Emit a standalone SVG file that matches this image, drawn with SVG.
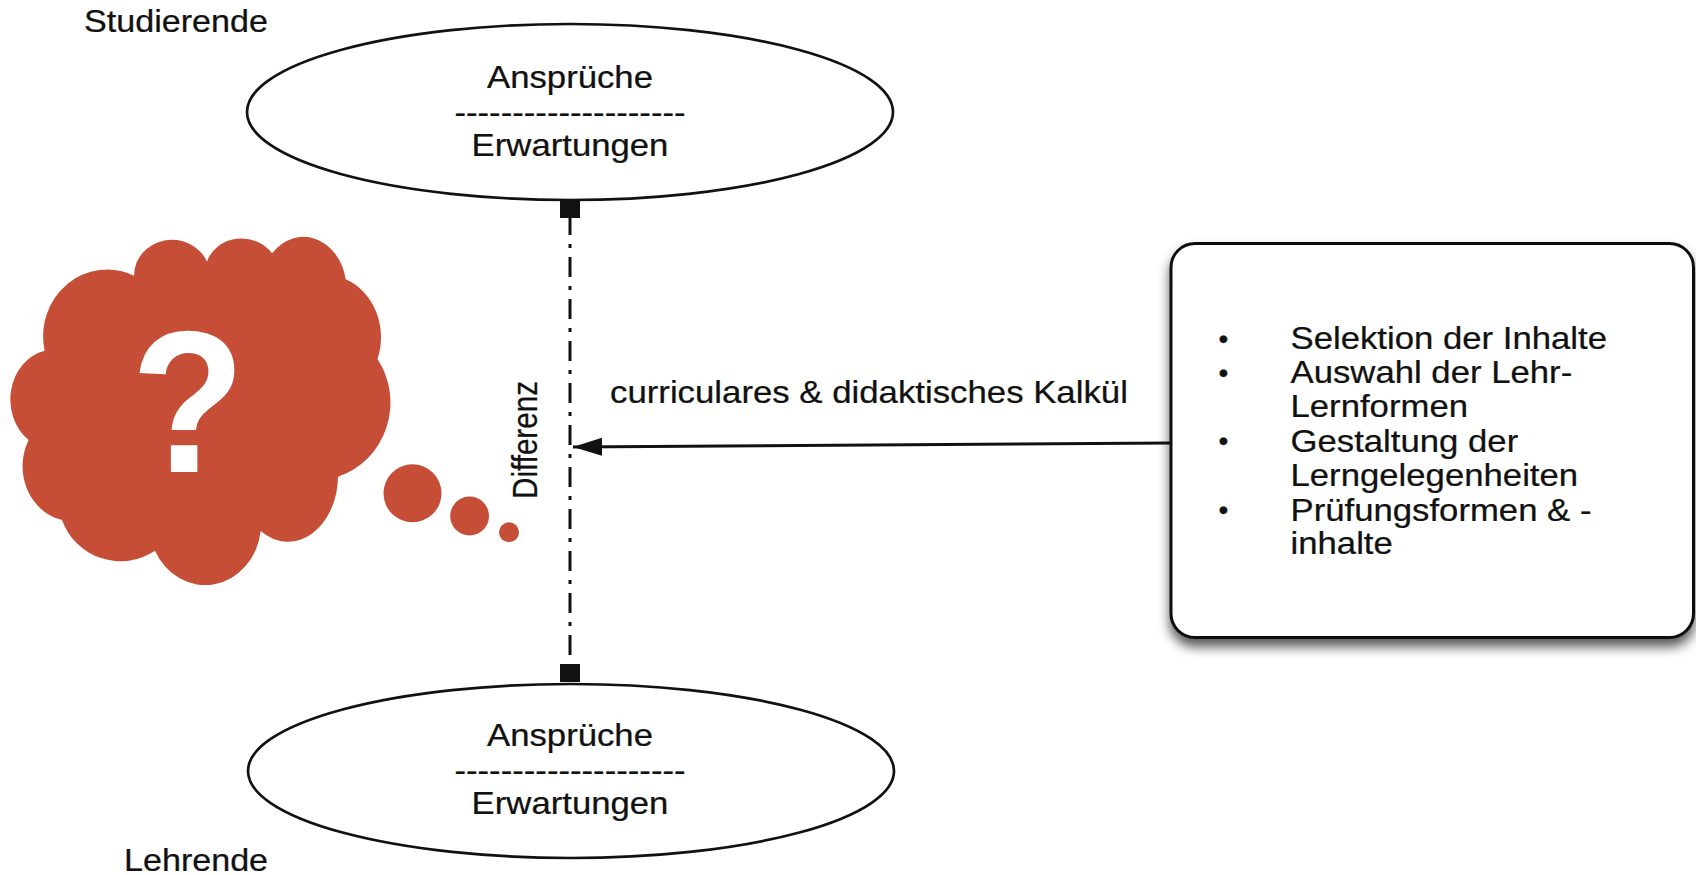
<svg xmlns="http://www.w3.org/2000/svg" width="1696" height="875" viewBox="0 0 1696 875">
<style>
text{font-family:"Liberation Sans",Arial,sans-serif;fill:#111;stroke:#111;stroke-width:.25}
.t{font-size:31px}
.b{font-size:28px}
.e{fill:#fff;stroke:#111;stroke-width:2.7}
.r{fill:#c64e37}
.c{stroke:#111;stroke-width:3;fill:none}
</style>
<defs>
<filter id="sh" x="-5%" y="-5%" width="110%" height="112%"><feDropShadow dx="0" dy="8" stdDeviation="6" flood-color="#000" flood-opacity="0.65"/></filter>
<marker id="ah" markerUnits="userSpaceOnUse" markerWidth="30" markerHeight="20" refX="29" refY="9" orient="auto"><path d="M0 0L29 9L0 18Z" fill="#111"/></marker>
</defs>
<rect width="1696" height="875" fill="#fff"/>
<g id="connectors">
<path class="c" d="M570 215V668" stroke-dasharray="20 9 4 9"/>
<rect x="560" y="201" width="20" height="17" fill="#111"/>
<rect x="560" y="664" width="20" height="18" fill="#111"/>
<path class="c" d="M1171 443L573 447" marker-end="url(#ah)"/>
</g>
<g id="studierende"><text class="t" transform="translate(84,32) scale(1.1,1)">Studierende</text></g>
<g id="lehrende"><text class="t" transform="translate(124,871) scale(1.1,1)">Lehrende</text></g>
<g id="ellipse-top">
<ellipse class="e" cx="570" cy="112" rx="323" ry="88"/>
<text class="t" text-anchor="middle" transform="translate(570,88) scale(1.12,1)">Ansprüche</text>
<text class="t" text-anchor="middle" transform="translate(570,123) scale(1.12,1)">--------------------</text>
<text class="t" text-anchor="middle" transform="translate(570,156) scale(1.12,1)">Erwartungen</text>
</g>
<g id="ellipse-bottom">
<ellipse class="e" cx="571" cy="771" rx="323" ry="87"/>
<text class="t" text-anchor="middle" transform="translate(570,746) scale(1.12,1)">Ansprüche</text>
<text class="t" text-anchor="middle" transform="translate(570,781) scale(1.12,1)">--------------------</text>
<text class="t" text-anchor="middle" transform="translate(570,814) scale(1.12,1)">Erwartungen</text>
</g>
<g id="cloud">
<path class="r" d="M44.6 350.7A64 67 0 0 1 134 275.7A38 36 0 0 1 207 261.7A36 32 0 0 1 272 253.3A43 52 0 0 1 345.7 279.3A55 62 0 0 1 377.5 359A76 78 0 0 1 338 476.7A50 66 0 0 1 260.7 531A56 62 0 0 1 155 550.7A62 62 0 0 1 62 520A50 55 0 0 1 28.6 440A44 50 0 0 1 44.6 350.7Z"/>
<circle class="r" cx="412.5" cy="493.3" r="29"/>
<circle class="r" cx="469.6" cy="516" r="19.4"/>
<circle class="r" cx="509" cy="532.3" r="10"/>
<text text-anchor="middle" transform="translate(188,472) scale(.92,1)" style="font-size:203px;font-weight:700;fill:#fff;stroke:none">?</text>
</g>
<g id="differenz"><text transform="translate(537,499) rotate(-90)" textLength="118" lengthAdjust="spacingAndGlyphs" style="font-size:35px">Differenz</text></g>
<g id="kalkuel"><text class="t" transform="translate(610,403) scale(1.087,1)" style="font-size:32px">curriculares &amp; didaktisches Kalkül</text></g>
<g id="box">
<rect x="1171" y="243.5" width="522.5" height="394" rx="24" fill="#fff" stroke="#111" stroke-width="3" filter="url(#sh)"/>
<text class="b" text-anchor="middle" x="1223.5" y="348">•</text>
<text class="b" text-anchor="middle" x="1223.5" y="382">•</text>
<text class="b" text-anchor="middle" x="1223.5" y="450">•</text>
<text class="b" text-anchor="middle" x="1223.5" y="519">•</text>
<text class="t" transform="translate(1290.5,348.5) scale(1.12,1)">Selektion der Inhalte</text>
<text class="t" transform="translate(1290.5,383) scale(1.12,1)">Auswahl der Lehr-</text>
<text class="t" transform="translate(1290.5,417) scale(1.12,1)">Lernformen</text>
<text class="t" transform="translate(1290.5,451.5) scale(1.12,1)">Gestaltung der</text>
<text class="t" transform="translate(1290.5,485.5) scale(1.12,1)">Lerngelegenheiten</text>
<text class="t" transform="translate(1290.5,520.5) scale(1.12,1)">Prüfungsformen &amp; -</text>
<text class="t" transform="translate(1290.5,554) scale(1.12,1)">inhalte</text>
</g>
</svg>
